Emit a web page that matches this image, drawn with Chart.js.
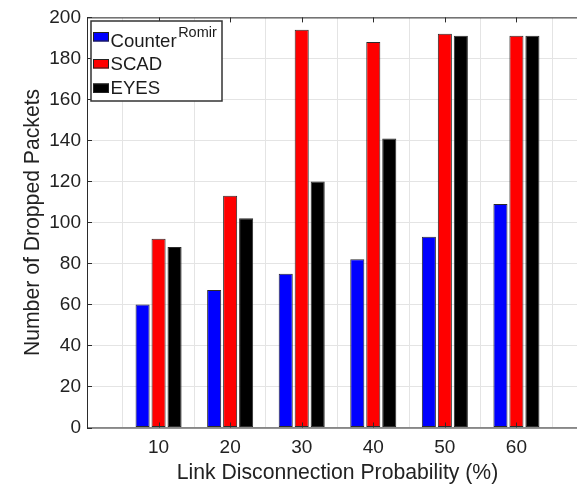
<!DOCTYPE html>
<html>
<head>
<meta charset="utf-8">
<script src="https://cdn.jsdelivr.net/npm/chart.js@4/dist/chart.umd.min.js"></script>
<style>
  html, body { margin: 0; padding: 0; background: #fff; overflow: hidden; }
  #wrap { width: 577px; height: 486px; overflow: hidden; }
  canvas { display: block; }
</style>
</head>
<body>
<div id="wrap"><canvas id="c" width="600" height="486"></canvas></div>
<script>
// Link disconnection probability (%) on x, 0..70 with bars at 10..60
const probabilities = ['0', '10', '20', '30', '40', '50', '60', '70'];
const shownTicks = ['10', '20', '30', '40', '50', '60'];

// Number of dropped packets per scheme
const counterRomir = [null, 60, 67, 75, 82, 93, 109, null];
const scad         = [null, 92, 113, 194, 188, 192, 191, null];
const eyes         = [null, 88, 102, 120, 141, 191, 191, null];

const seriesNames = ['Counter', 'SCAD', 'EYES'];
const seriesSuperscripts = ['Romir', '', ''];

const yTicks = [0, 20, 40, 60, 80, 100, 120, 140, 160, 180, 200];

const FONT = 'Liberation Sans, Arial, Helvetica, sans-serif';
const TEXT = '#222222';
const EDGE = '#2b2b2b';

// Box around the axes with short inward tick marks on every side
const axesBox = {
  id: 'axesBox',
  afterDatasetsDraw(chart) {
    const { ctx, chartArea: a, scales } = chart;
    ctx.save();
    ctx.strokeStyle = EDGE;
    ctx.lineWidth = 1;
    ctx.beginPath();
    ctx.rect(a.left + 0.5, a.top + 0.5, a.right - a.left, a.bottom - a.top);
    ctx.stroke();
    const len = 5;
    ctx.beginPath();
    scales.x.ticks.forEach((t, i) => {
      const lab = probabilities[i];
      if (!shownTicks.includes(lab)) return;
      const x = Math.round(scales.x.getPixelForTick(i)) + 0.5;
      ctx.moveTo(x, a.bottom); ctx.lineTo(x, a.bottom - len);
      ctx.moveTo(x, a.top); ctx.lineTo(x, a.top + len);
    });
    yTicks.forEach(v => {
      const y = Math.round(scales.y.getPixelForValue(v)) + 0.5;
      ctx.moveTo(a.left, y); ctx.lineTo(a.left + len, y);
      ctx.moveTo(a.right, y); ctx.lineTo(a.right - len, y);
    });
    ctx.stroke();
    ctx.restore();
  }
};

// Legend box in the upper-left corner, with a superscript on the first entry
const boxLegend = {
  id: 'boxLegend',
  afterDraw(chart) {
    const { ctx } = chart;
    const x0 = 91, y0 = 21, w = 131, h = 80;
    ctx.save();
    ctx.fillStyle = '#fff';
    ctx.fillRect(x0, y0, w, h);
    ctx.strokeStyle = '#333';
    ctx.lineWidth = 1.5;
    ctx.strokeRect(x0, y0, w, h);
    const swatchY = [32, 59, 83.5];
    const baseY = [46.7, 69.5, 94];
    chart.data.datasets.forEach((ds, i) => {
      ctx.fillStyle = ds.backgroundColor;
      ctx.fillRect(93, swatchY[i], 16, 9.5);
      ctx.strokeStyle = '#222';
      ctx.lineWidth = 1;
      ctx.strokeRect(93.5, swatchY[i] + 0.5, 15, 8.5);
      ctx.fillStyle = '#1c1c1c';
      ctx.font = '18.6px ' + FONT;
      ctx.textBaseline = 'alphabetic';
      ctx.textAlign = 'left';
      ctx.fillText(seriesNames[i], 110.5, baseY[i]);
      if (seriesSuperscripts[i]) {
        const wMain = ctx.measureText(seriesNames[i]).width;
        ctx.font = '14.5px ' + FONT;
        ctx.fillText(seriesSuperscripts[i], 110.5 + wMain + 1.5, 37);
      }
    });
    ctx.restore();
  }
};

const barStyle = { borderColor: EDGE, borderWidth: 1, borderSkipped: false,
                   categoryPercentage: 0.67, barPercentage: 0.88 };

new Chart(document.getElementById('c'), {
  type: 'bar',
  data: {
    labels: probabilities,
    datasets: [
      { label: 'CounterRomir', data: counterRomir, backgroundColor: '#0000ff', ...barStyle },
      { label: 'SCAD', data: scad, backgroundColor: '#ff0000', ...barStyle },
      { label: 'EYES', data: eyes, backgroundColor: '#000000', ...barStyle }
    ]
  },
  options: {
    responsive: false,
    animation: false,
    devicePixelRatio: 1,
    layout: { padding: { left: 0, top: 17, right: 12, bottom: 0 } },
    plugins: { legend: { display: false }, tooltip: { enabled: false } },
    scales: {
      x: {
        type: 'category',
        offset: false,
        grid: { color: '#e4e4e4', lineWidth: 1, drawTicks: false },
        border: { display: false },
        ticks: {
          autoSkip: false, maxRotation: 0, padding: 9,
          color: TEXT, font: { family: FONT, size: 19 },
          callback: (v, i) => shownTicks.includes(probabilities[i]) ? probabilities[i] : ''
        },
        title: {
          display: true, text: 'Link Disconnection Probability (%)',
          color: TEXT, font: { family: FONT, size: 21.2 },
          padding: { top: 0, bottom: 0.5 }
        },
        afterFit: s => { s.height = 58.5; }
      },
      y: {
        min: 0, max: 200,
        grid: { color: '#e4e4e4', lineWidth: 1, drawTicks: false },
        border: { display: false },
        afterBuildTicks: s => { s.ticks = yTicks.map(v => ({ value: v })); },
        ticks: {
          padding: 6, color: TEXT, font: { family: FONT, size: 19 }
        },
        title: {
          display: true, text: 'Number of Dropped Packets',
          color: TEXT, font: { family: FONT, size: 21.2 },
          padding: { top: 20.3, bottom: 0 }
        },
        afterFit: s => { s.width = 87; }
      }
    }
  },
  plugins: [axesBox, boxLegend]
});
</script>
</body>
</html>
